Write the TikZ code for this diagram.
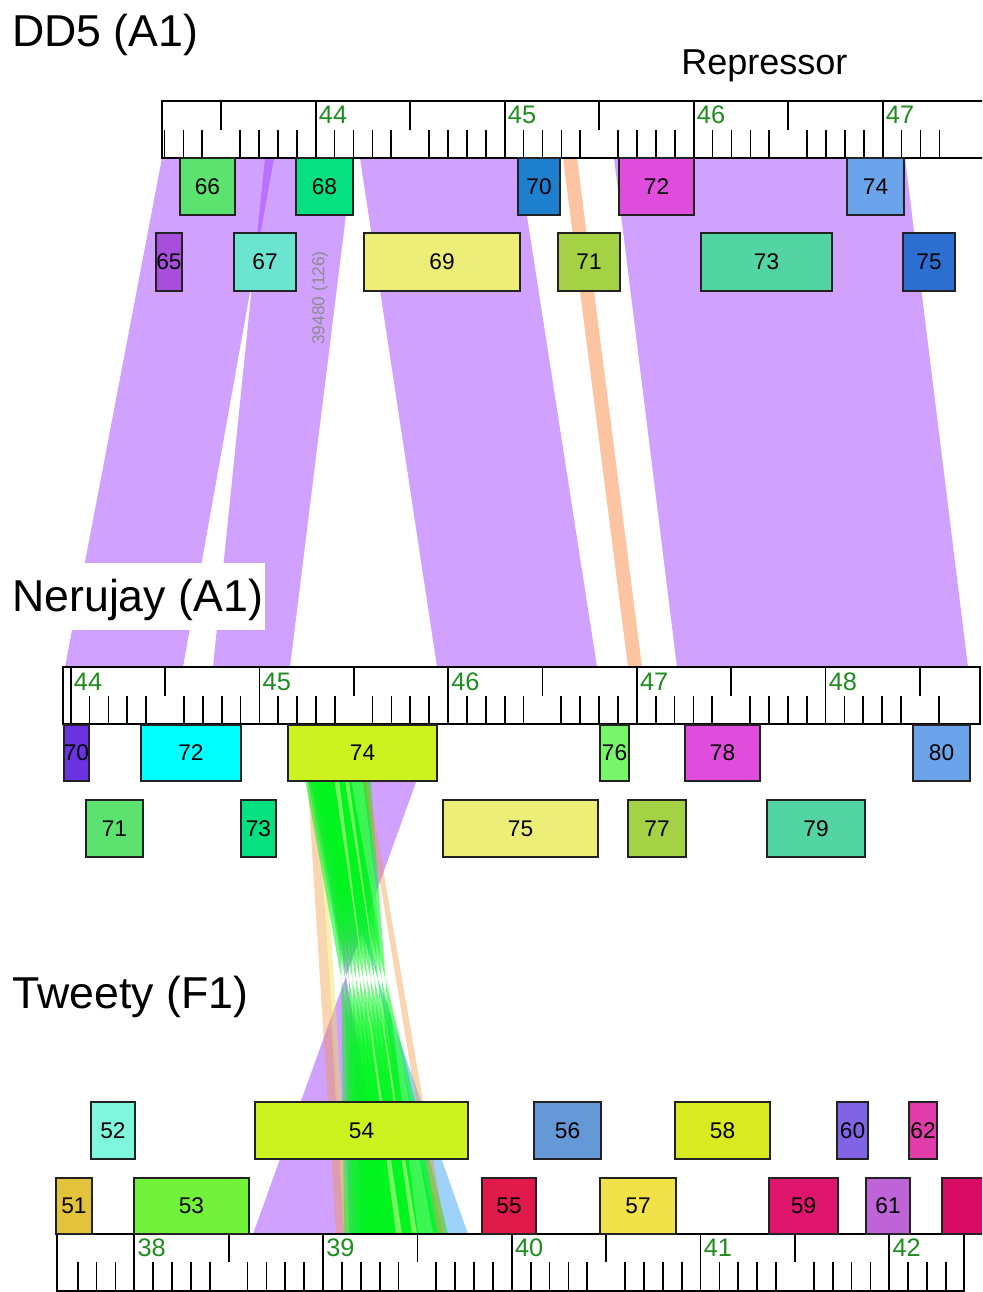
\documentclass[tikz,border=0pt]{standalone}
\usepackage{fontspec}
\setmainfont{Liberation Sans}
\usetikzlibrary{calc}

% gene palette
\definecolor{gA65}{RGB}{168,78,220}
\definecolor{gA66}{RGB}{92,226,110}
\definecolor{gA67}{RGB}{107,229,207}
\definecolor{gA68}{RGB}{5,224,128}
\definecolor{gA69}{RGB}{236,238,120}
\definecolor{gA70}{RGB}{31,128,207}
\definecolor{gA71}{RGB}{165,209,69}
\definecolor{gA72}{RGB}{224,76,220}
\definecolor{gA73}{RGB}{82,213,162}
\definecolor{gA74}{RGB}{108,164,236}
\definecolor{gA75}{RGB}{45,111,209}
\definecolor{gB70}{RGB}{106,50,224}
\definecolor{gB72}{RGB}{0,255,255}
\definecolor{gB74}{RGB}{204,242,32}
\definecolor{gB76}{RGB}{120,245,106}
\definecolor{gC51}{RGB}{227,194,60}
\definecolor{gC52}{RGB}{126,247,220}
\definecolor{gC53}{RGB}{114,242,58}
\definecolor{gC55}{RGB}{224,26,74}
\definecolor{gC56}{RGB}{100,152,214}
\definecolor{gC57}{RGB}{242,226,74}
\definecolor{gC58}{RGB}{218,234,32}
\definecolor{gC59}{RGB}{224,22,110}
\definecolor{gC60}{RGB}{128,100,228}
\definecolor{gC61}{RGB}{190,100,214}
\definecolor{gC62}{RGB}{224,60,170}
\definecolor{gC63}{RGB}{216,12,100}
% match colours
\definecolor{hitpurple}{RGB}{163,67,255}
\definecolor{hitpeach}{RGB}{252,196,160}
\definecolor{hitblue}{RGB}{125,195,250}
\definecolor{hitgreen}{RGB}{0,245,30}
\definecolor{hitorange}{RGB}{240,150,60}
\definecolor{hityellow}{RGB}{240,225,90}
\definecolor{hitpale}{RGB}{215,250,150}
\definecolor{rulegreen}{RGB}{30,140,30}
\definecolor{boxline}{RGB}{34,34,34}

\newcommand\gbox[7]{% name, x1, x2, y1, y2, colour, label
  \node[gene, fill=#6, minimum width={(#3-#2)*0.75pt}, minimum height={(#5-#4)*0.75pt}]
    (#1) at ({(#2+#3)/2},{(#4+#5)/2}) {#7};}

\begin{document}
\begin{tikzpicture}[x=0.75pt,y=-0.75pt,
  gene/.style={draw=boxline, line width=1.5pt, inner sep=0pt, outer sep=0pt,
    font=\fontsize{17pt}{19pt}\selectfont},
  band/.style={fill=hitpurple, fill opacity=0.5},
  twist/.style={fill opacity=#1},
  frame/.style={draw=black, line width=2.2pt, fill=white},
  tick/.style={draw=black, line width=1.3pt},
  tlabel/.style={anchor=west, inner sep=0pt, text=rulegreen,
    font=\fontsize{19pt}{21pt}\selectfont},
  title/.style={anchor=base west, inner sep=0pt, font=\fontsize{33.5pt}{36pt}\selectfont}]
\useasboundingbox (0,0) rectangle (982,1292);
\clip (0,0) rectangle (982,1292);

% ---------- DD5 -> Nerujay matches ----------
\fill[band] (162,158) -- (274,158) -- (183,667) -- (65,667) -- cycle;
\fill[band] (265,158) -- (353,158) -- (290,667) -- (213,667) -- cycle;
\fill[band] (360,158) -- (518,158) -- (597,667) -- (437,667) -- cycle;
\fill[hitpeach] (563,158) -- (577,158) -- (642,667) -- (628,667) -- cycle;
\fill[band] (614,158) -- (905,158) -- (968,667) -- (677,667) -- cycle;

% ---------- Nerujay -> Tweety matches (inverted) ----------
\fill[band] (301,724) -- (437,724) -- (253,1234) -- (392,1234) -- cycle;
\fill[hitblue, twist=0.75] (288,724) -- (330,724) -- (426,1234) -- (468,1234) -- cycle;
\fill[hitorange, twist=0.4] (304,724) -- (312,724) -- (347,1234) -- (336,1234) -- cycle;
\fill[hityellow, twist=0.45] (313,724) -- (318,724) -- (350,1234) -- (344,1234) -- cycle;
\foreach \i in {0,...,12} {
  \pgfmathsetmacro\tc{317+2.3*\i}
  \pgfmathsetmacro\bc{366+5*\i}
  \fill[hitgreen, twist=0.55] ({\tc-22},724) -- ({\tc+22},724)
    -- ({\bc-22},1234) -- ({\bc+22},1234) -- cycle;
}
\fill[hitpale, twist=0.55] (326,724) -- (332,724) -- (396,1234) -- (402,1234) -- cycle;
\fill[hitpale, twist=0.55] (336,724) -- (341,724) -- (412,1234) -- (417,1234) -- cycle;
\fill[hitgreen!55!white, twist=0.5] (341,724) -- (356,724) -- (418,1234) -- (433,1234) -- cycle;
\fill[hitorange, twist=0.4] (354,724) -- (358,724) -- (446,1234) -- (438,1234) -- cycle;

% ---------- DD5 (A1) ----------
\node[title] (dd5title) at (12,46) {DD5 (A1)};
\node[anchor=base west, inner sep=0pt, font=\fontsize{27pt}{29pt}\selectfont]
  (repressor) at (681,74) {Repressor};
\draw[frame] (162,101) rectangle (1000,158);
\foreach \i in {-8,...,33} {
  \pgfmathsetmacro\xx{315.7+18.9*\i}
  \pgfmathtruncatemacro\m{mod(\i+100,10)}
  \ifnum\m=0 \draw[tick] (\xx,101) -- (\xx,158);
  \else\ifnum\m=5 \draw[tick] (\xx,101) -- (\xx,130);
  \else \draw[tick] (\xx,130) -- (\xx,158); \fi\fi
}
\foreach \n [count=\k from 0] in {44,45,46,47}
  \node[tlabel] (dd5t\n) at ({315.7+189*\k+3},115) {\n};

\gbox{a66}{180}{235}{158}{215}{gA66}{66}
\gbox{a68}{296}{353}{158}{215}{gA68}{68}
\gbox{a70}{518}{560}{158}{215}{gA70}{70}
\gbox{a72}{619}{694}{158}{215}{gA72}{72}
\gbox{a74}{847}{904}{158}{215}{gA74}{74}
\gbox{a65}{157}{181}{233}{291}{gA65}{65}
\gbox{a67}{234}{296}{233}{291}{gA67}{67}
\gbox{a69}{364}{520}{233}{291}{gA69}{69}
\gbox{a71}{558}{620}{233}{291}{gA71}{71}
\gbox{a73}{701}{832}{233}{291}{gA73}{73}
\gbox{a75}{903}{955}{233}{291}{gA75}{75}

\node[rotate=90, inner sep=0pt, text=black!45, font=\fontsize{13pt}{15pt}\selectfont]
  (hitnote) at (320,298) {39480 (126)};

% ---------- Nerujay (A1) ----------
\fill[white] (0,563) rectangle (265,630);
\node[title] (nertitle) at (12,611) {Nerujay (A1)};
\draw[frame] (63,667) rectangle (980,724);
\foreach \i in {0,...,46} {
  \pgfmathsetmacro\xx{70.7+18.87*\i}
  \pgfmathtruncatemacro\m{mod(\i+100,10)}
  \ifnum\m=0 \draw[tick] (\xx,667) -- (\xx,724);
  \else\ifnum\m=5 \draw[tick] (\xx,667) -- (\xx,696);
  \else \draw[tick] (\xx,696) -- (\xx,724); \fi\fi
}
\foreach \n [count=\k from 0] in {44,45,46,47,48}
  \node[tlabel] (nert\n) at ({70.7+188.7*\k+3},682) {\n};

\gbox{b70}{65}{88}{725}{781}{gB70}{70}
\gbox{b72}{141}{241}{725}{781}{gB72}{72}
\gbox{b74}{288}{437}{725}{781}{gB74}{74}
\gbox{b76}{600}{629}{725}{781}{gB76}{76}
\gbox{b78}{685}{760}{725}{781}{gA72}{78}
\gbox{b80}{913}{970}{725}{781}{gA74}{80}
\gbox{b71}{86}{143}{800}{857}{gA66}{71}
\gbox{b73}{241}{276}{800}{857}{gA68}{73}
\gbox{b75}{443}{598}{800}{857}{gA69}{75}
\gbox{b77}{628}{686}{800}{857}{gA71}{77}
\gbox{b79}{767}{865}{800}{857}{gA73}{79}

% ---------- Tweety (F1) ----------
\node[title] (twtitle) at (12,1008) {Tweety (F1)};
\draw[frame] (57,1234) rectangle (964,1291);
\foreach \i in {-3,...,43} {
  \pgfmathsetmacro\xx{134.3+18.875*\i}
  \pgfmathtruncatemacro\m{mod(\i+100,10)}
  \ifnum\m=0 \draw[tick] (\xx,1234) -- (\xx,1291);
  \else\ifnum\m=5 \draw[tick] (\xx,1234) -- (\xx,1262);
  \else \draw[tick] (\xx,1262) -- (\xx,1291); \fi\fi
}
\foreach \n [count=\k from 0] in {38,39,40,41,42}
  \node[tlabel] (twt\n) at ({134.3+188.75*\k+3},1248) {\n};

\gbox{c52}{91}{135}{1102}{1159}{gC52}{52}
\gbox{c54}{255}{468}{1102}{1159}{gB74}{54}
\gbox{c56}{534}{601}{1102}{1159}{gC56}{56}
\gbox{c58}{675}{770}{1102}{1159}{gC58}{58}
\gbox{c60}{837}{868}{1102}{1159}{gC60}{60}
\gbox{c62}{909}{937}{1102}{1159}{gC62}{62}
\gbox{c51}{56}{92}{1178}{1234}{gC51}{51}
\gbox{c53}{134}{249}{1178}{1234}{gC53}{53}
\gbox{c55}{482}{536}{1178}{1234}{gC55}{55}
\gbox{c57}{600}{676}{1178}{1234}{gC57}{57}
\gbox{c59}{769}{838}{1178}{1234}{gC59}{59}
\gbox{c61}{866}{910}{1178}{1234}{gC61}{61}
\gbox{c63}{942}{1010}{1178}{1234}{gC63}{}
\end{tikzpicture}
\end{document}
